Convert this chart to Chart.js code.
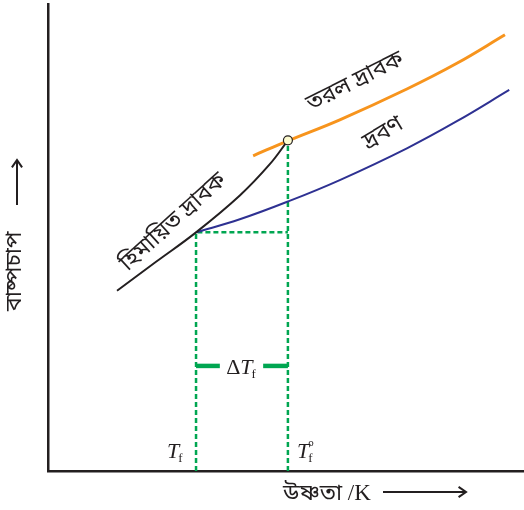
<!DOCTYPE html>
<html>
<head>
<meta charset="utf-8">
<script src="https://cdn.jsdelivr.net/npm/chart.js@4.4.1/dist/chart.umd.min.js"></script>
<style>
  html, body { margin: 0; padding: 0; background: #ffffff; overflow: hidden; }
  #wrap { width: 524px; height: 510px; position: relative; }
</style>
</head>
<body>
<div id="wrap"><canvas id="c" width="524" height="510"></canvas></div>
<script>
// ---- Data (arbitrary units: temperature 0-100, vapour pressure 0-100) ----
const solidX    = [14.5, 22.7, 31.1, 40.3, 46.6, 50.4];
const solidY    = [38.6, 44.8, 51.1, 59.0, 65.7, 70.8];
const liquidX   = [43.1, 50.4, 61.3, 75.4, 85.9, 96.0];
const liquidY   = [67.5, 70.7, 75.2, 81.8, 87.3, 93.4];
const solutionX = [31.1, 40.3, 50.4, 61.3, 75.4, 85.9, 96.9];
const solutionY = [51.1, 53.9, 57.7, 62.3, 69.1, 74.9, 81.6];
const Tf  = 31.1;   // freezing point of solution
const Tf0 = 50.4;   // freezing point of pure solvent
const pSolution = 51.1;
const pSolvent  = 70.8;
const deltaY = 22.5;
const deltaBarEnds = [[31.1, 36.1], [45.2, 50.4]];

const curveLabels = [
  { text: 'তরল দ্রাবক',     x: 64.7, y: 83.0, angle: -27 },
  { text: 'দ্রবণ',          x: 70.6, y: 72.0, angle: -31 },
  { text: 'হিমায়িত দ্রাবক', x: 26.6, y: 53.0, angle: -42 }
];
const xTitle = 'উষ্ণতা';
const xUnit = ' /K';
const yTitle = 'বাষ্পচাপ';

const bn = '"Noto Sans Bengali", "Lohit Bengali", "Noto Serif Bengali", "Mukta", sans-serif';
const serif = '"Liberation Serif", "DejaVu Serif", serif';

const green = '#00a651';

function pts(xs, ys) { return xs.map((x, i) => ({ x: x, y: ys[i] })); }

const annotations = {
  id: 'annotations',
  afterDatasetsDraw(chart) {
    const ctx = chart.ctx;
    const xs = chart.scales.x, ys = chart.scales.y;
    const X = v => xs.getPixelForValue(v), Y = v => ys.getPixelForValue(v);
    ctx.save();
    // thick ΔTf bars
    ctx.strokeStyle = green; ctx.lineWidth = 4.5; ctx.setLineDash([]);
    deltaBarEnds.forEach(([a, b]) => {
      ctx.beginPath(); ctx.moveTo(X(a), Y(deltaY)); ctx.lineTo(X(b), Y(deltaY)); ctx.stroke();
    });
    function subLabel(prefix, sub, sup, cx, baseline, align) {
      ctx.fillStyle = '#231f20';
      ctx.textBaseline = 'alphabetic';
      ctx.font = '22px ' + serif;
      const wPre = ctx.measureText(prefix).width;
      ctx.font = 'italic 22px ' + serif;
      const wT = ctx.measureText('T').width;
      ctx.font = '13px ' + serif;
      const wSub = ctx.measureText(sub).width;
      const total = wPre + wT + wSub;
      let x0 = align === 'left' ? cx : cx - total / 2;
      ctx.textAlign = 'left';
      ctx.font = '22px ' + serif; ctx.fillText(prefix, x0, baseline);
      ctx.font = 'italic 22px ' + serif; ctx.fillText('T', x0 + wPre, baseline);
      ctx.font = '13px ' + serif; ctx.fillText(sub, x0 + wPre + wT - 1, baseline + 4);
      if (sup) { ctx.font = '11px ' + serif; ctx.fillText(sup, x0 + wPre + wT - 1, baseline - 12); }
    }
    subLabel('Δ', 'f', null, (X(36.1) + X(45.2)) / 2, Y(deltaY) + 8, 'center');
    subLabel('', 'f', null, X(Tf) - 29, Y(2.8), 'left');
    subLabel('', 'f', 'o', X(Tf0) + 9, Y(2.8), 'left');

    // rotated curve labels
    ctx.fillStyle = '#231f20';
    ctx.font = '23px ' + bn;
    ctx.textAlign = 'center'; ctx.textBaseline = 'middle';
    curveLabels.forEach(l => {
      ctx.save();
      ctx.translate(X(l.x), Y(l.y));
      ctx.rotate(l.angle * Math.PI / 180);
      ctx.fillText(l.text, 0, 0);
      ctx.restore();
    });

    function arrow(x1, y1, x2, y2) {
      ctx.strokeStyle = '#231f20'; ctx.lineWidth = 2; ctx.setLineDash([]);
      ctx.beginPath(); ctx.moveTo(x1, y1); ctx.lineTo(x2, y2); ctx.stroke();
      const a = Math.atan2(y2 - y1, x2 - x1);
      ctx.beginPath();
      ctx.moveTo(x2 - 9 * Math.cos(a - 0.6), y2 - 9 * Math.sin(a - 0.6));
      ctx.lineTo(x2, y2);
      ctx.lineTo(x2 - 9 * Math.cos(a + 0.6), y2 - 9 * Math.sin(a + 0.6));
      ctx.stroke();
    }
    // x title + arrow
    ctx.font = '23px ' + bn;
    ctx.textAlign = 'left'; ctx.textBaseline = 'alphabetic';
    ctx.fillText(xTitle, 283, 500);
    const wb = ctx.measureText(xTitle).width;
    ctx.font = '23px ' + serif;
    ctx.fillText(xUnit, 283 + wb, 500);
    arrow(383, 492, 466, 492);

    // y title + arrow
    ctx.save();
    ctx.translate(17, 311);
    ctx.rotate(-Math.PI / 2);
    ctx.font = '23px ' + bn;
    ctx.textAlign = 'left'; ctx.textBaseline = 'middle';
    ctx.fillText(yTitle, 0, 0);
    ctx.restore();
    arrow(17, 205, 17, 160);
    ctx.restore();
  }
};

const dashed = { borderColor: green, borderWidth: 2.5, borderDash: [5, 3], pointRadius: 0, showLine: true, fill: false, tension: 0, order: 5 };

new Chart(document.getElementById('c'), {
  type: 'scatter',
  data: {
    datasets: [
      Object.assign({ label: 'Tf', data: [{ x: Tf, y: 0 }, { x: Tf, y: pSolution }, { x: Tf0, y: pSolution }] }, dashed),
      Object.assign({ label: 'Tf0', data: [{ x: Tf0, y: 0 }, { x: Tf0, y: pSolvent }] }, dashed),
      { label: 'liquid', data: pts(liquidX, liquidY), showLine: true, borderColor: '#f7941d', borderWidth: 3, pointRadius: 0, tension: 0.4, order: 3 },
      { label: 'solution', data: pts(solutionX, solutionY), showLine: true, borderColor: '#2e3192', borderWidth: 2, pointRadius: 0, tension: 0.4, order: 2 },
      { label: 'solid', data: pts(solidX, solidY), showLine: true, borderColor: '#231f20', borderWidth: 2, pointRadius: 0, tension: 0.4, order: 1 },
      { label: 'point', data: [{ x: Tf0, y: pSolvent }], pointRadius: 4.5, pointBackgroundColor: '#fdfbd0', pointBorderColor: '#231f20', pointBorderWidth: 1.2, showLine: false, order: 0 }
    ]
  },
  options: {
    responsive: false,
    animation: false,
    layout: { autoPadding: false, padding: { left: 48, top: 4, right: 0, bottom: 39 } },
    plugins: { legend: { display: false }, tooltip: { enabled: false } },
    scales: {
      x: {
        type: 'linear', min: 0, max: 100,
        ticks: { display: false },
        grid: { display: false, drawTicks: false },
        border: { display: true, color: '#231f20', width: 2.5 },
        afterFit(s) { s.height = 0; }
      },
      y: {
        type: 'linear', min: 0, max: 100,
        ticks: { display: false },
        grid: { display: false, drawTicks: false },
        border: { display: true, color: '#231f20', width: 2.5 },
        afterFit(s) { s.width = 0; }
      }
    }
  },
  plugins: [annotations]
});
</script>
</body>
</html>
